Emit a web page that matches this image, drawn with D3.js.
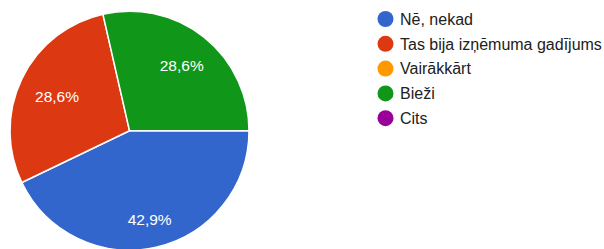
<!DOCTYPE html>
<html>
<head>
<meta charset="utf-8">
<script src="https://cdn.jsdelivr.net/npm/d3@7"></script>
<style>
  html, body { margin: 0; padding: 0; background: #fff; }
  svg { display: block; }
</style>
</head>
<body>
<svg id="chart" width="604" height="249"></svg>
<script>
const categories = ["Nē, nekad", "Tas bija izņēmuma gadījums", "Vairākkārt", "Bieži", "Cits"];
const counts = [3, 2, 0, 2, 0];
const colors = ["#3366cc", "#dc3912", "#ff9900", "#109618", "#990099"];

const svg = d3.select("#chart");
const cx = 129.5, cy = 130.7, R = 119.5;
const total = d3.sum(counts);
const fmt = v => (v / total * 100).toFixed(1).replace(".", ",") + "%";

const pie = d3.pie().sort(null).value(d => d.v).startAngle(Math.PI / 2).endAngle(Math.PI / 2 + 2 * Math.PI);
const data = categories.map((c, i) => ({ c, v: counts[i], col: colors[i] }));
const arcs = pie(data).filter(a => a.data.v > 0);
const arc = d3.arc().innerRadius(0).outerRadius(R);

const g = svg.append("g").attr("transform", `translate(${cx},${cy})`);
g.selectAll("path").data(arcs).join("path")
  .attr("d", arc)
  .attr("fill", d => d.data.col)
  .attr("stroke", "#fff")
  .attr("stroke-width", 1.5)
  .attr("stroke-linejoin", "round");

const labels = g.selectAll("text").data(arcs).join("text")
  .attr("fill", "#fff")
  .attr("font-family", "Arial, 'Liberation Sans', sans-serif")
  .attr("font-size", "15.5px")
  .attr("text-anchor", "middle")
  .attr("dominant-baseline", "central")
  .text(d => fmt(d.data.v));

const cornerR = 103;
labels.each(function(d) {
  const bb = this.getBBox();
  const th = (d.startAngle + d.endAngle) / 2;
  const ux = Math.sin(th), uy = -Math.cos(th);
  const chx = Math.sign(ux) * bb.width / 2, chy = Math.sign(uy) * 11.6 / 2;
  const uc = ux * chx + uy * chy;
  const cc = chx * chx + chy * chy;
  const r = -uc + Math.sqrt(uc * uc - cc + cornerR * cornerR);
  d3.select(this).attr("x", r * ux).attr("y", r * uy + 0.5);
});

const lg = svg.append("g").attr("transform", "translate(385.5,19)");
const rows = lg.selectAll("g").data(data).join("g")
  .attr("transform", (d, i) => `translate(0,${i * 24.8})`);
rows.append("circle").attr("r", 8).attr("fill", d => d.col);
rows.append("text")
  .attr("x", 14.5)
  .attr("dy", "0.36em")
  .attr("fill", "#212121")
  .attr("font-family", "Arial, 'Liberation Sans', sans-serif")
  .attr("font-size", "16px")
  .text(d => d.c);
</script>
</body>
</html>
